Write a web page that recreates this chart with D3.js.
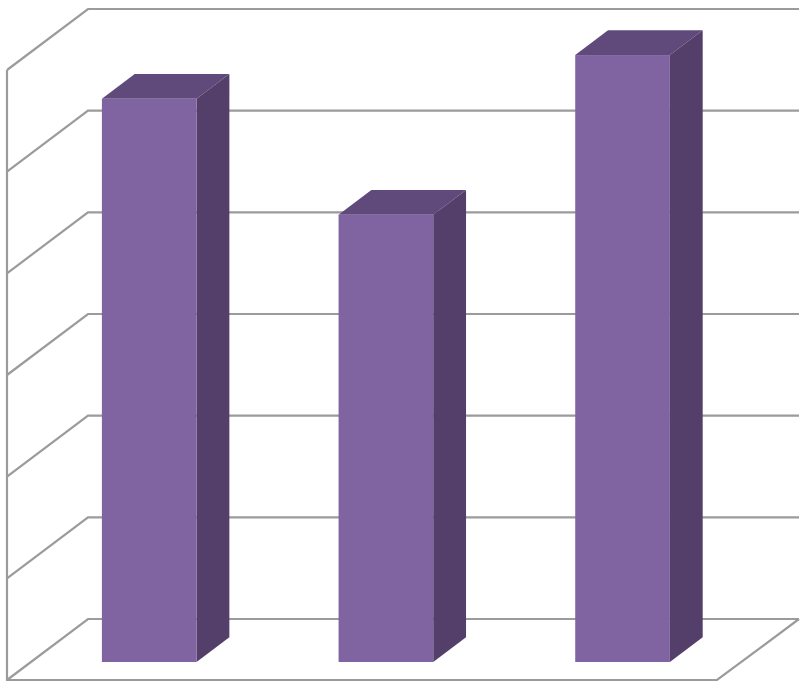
<!DOCTYPE html>
<html>
<head>
<meta charset="utf-8">
<style>
html, body { margin: 0; padding: 0; background: #fff; }
svg { display: block; }
</style>
<script src="https://cdn.jsdelivr.net/npm/d3@7"></script>
</head>
<body>
<div id="chart"></div>
<script>
// values, the original has no labels
const categories = ['A', 'B', 'C']
const values = [5.54, 4.4, 5.97]
const yTicks = [0, 1, 2, 3, 4, 5, 6]

const width = 805, height = 685

// front plane of the 3d box
const x = d3.scaleBand().domain(categories).range([7, 717]).paddingInner(0.6).paddingOuter(0.3)
const y = d3.scaleLinear().domain([0, 6]).range([680, 70])

// depth goes up and to the right
const depthX = 81, depthY = -61
const barFront = 0.295, barBack = 0.7

const px = (v, z) => v + z * depthX
const py = (v, z) => v + z * depthY
const line = d3.line()

const svg = d3.select('#chart').append('svg')
	.attr('width', width)
	.attr('height', height)

// walls and floor
const grid = svg.append('g')
	.attr('fill', 'none')
	.attr('stroke', '#9b9b9b')
	.attr('stroke-width', 2.2)

grid.selectAll('path.tick')
	.data(yTicks)
	.enter().append('path')
		.attr('class', 'tick')
		.attr('d', d => line([
			[px(7, 0), py(y(d), 0)],
			[px(7, 1), py(y(d), 1)],
			[px(717, 1) + 1, py(y(d), 1)]
		]))

grid.append('path')
	.attr('d', line([[7, y(6)], [7, y(0)], [717, y(0)], [px(717, 1) + 1, py(y(0), 1)]]))

// bars
const bar = svg.selectAll('g.bar')
	.data(categories.map((c, i) => ({ c, v: values[i] })))
	.enter().append('g')
		.attr('class', 'bar')

const corners = d => {
	const l = x(d.c), r = l + x.bandwidth()
	return { l, r, top: y(d.v), base: y(0) }
}

// top face
bar.append('path')
	.attr('fill', '#604a7b')
	.attr('d', d => {
		const c = corners(d)
		return line([
			[px(c.l, barFront), py(c.top, barFront)],
			[px(c.l, barBack), py(c.top, barBack)],
			[px(c.r, barBack), py(c.top, barBack)],
			[px(c.r, barFront), py(c.top, barFront)]
		]) + 'Z'
	})

// side face
bar.append('path')
	.attr('fill', '#543f6b')
	.attr('d', d => {
		const c = corners(d)
		return line([
			[px(c.r, barFront), py(c.top, barFront)],
			[px(c.r, barBack), py(c.top, barBack)],
			[px(c.r, barBack), py(c.base, barBack)],
			[px(c.r, barFront), py(c.base, barFront)]
		]) + 'Z'
	})

// front face
bar.append('rect')
	.attr('fill', '#8064a2')
	.attr('x', d => px(x(d.c), barFront))
	.attr('y', d => py(y(d.v), barFront))
	.attr('width', x.bandwidth())
	.attr('height', d => y(0) - y(d.v))
</script>
</body>
</html>
